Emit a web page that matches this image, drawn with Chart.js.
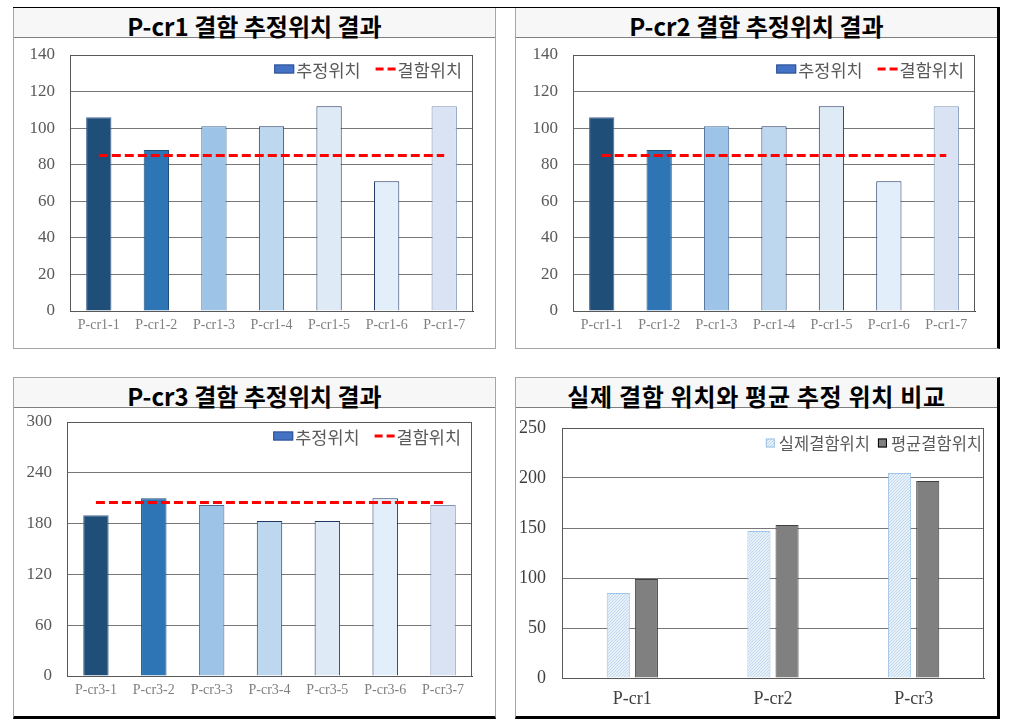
<!DOCTYPE html>
<html>
<head>
<meta charset="utf-8">
<script src="https://cdn.jsdelivr.net/npm/chart.js@4"></script>
<style>
    body { margin:0; background:#fff; width:1016px; height:725px; position:relative; overflow:hidden; }
    .panel { position:absolute; box-sizing:border-box; border:1px solid #a6a6a6; background:#fff; }
    .title { height:29px; line-height:29px; background:#f7f7f7; border-bottom:1px solid #7f7f7f;
             text-align:center; font:bold 24px "Noto Sans CJK KR", sans-serif; color:#000; white-space:nowrap; }
    .line { position:absolute; background:#000; }
    canvas { position:absolute; }
</style>
</head>
<body>

<div class="panel" style="left:13px;top:7px;width:483px;height:342px;">
    <div class="title">P-cr1 결함 추정위치 결과</div>
</div>
<div class="panel" style="left:515px;top:7px;width:485px;height:342px;border-right:3px solid #000;">
    <div class="title">P-cr2 결함 추정위치 결과</div>
</div>
<div class="panel" style="left:13px;top:377px;width:483px;height:342px;border-bottom:3px solid #000;">
    <div class="title">P-cr3 결함 추정위치 결과</div>
</div>
<div class="panel" style="left:515px;top:377px;width:485px;height:342px;border-right:3px solid #000;border-bottom:3px solid #000;">
    <div class="title" style="letter-spacing:0.7px;">실제 결함 위치와 평균 추정 위치 비교</div>
</div>
<div class="line" style="left:13px;top:7px;width:987px;height:1px;"></div>

<canvas id="chart1" width="481" height="310" style="left:14px;top:38px;"></canvas>
<canvas id="chart2" width="481" height="310" style="left:516px;top:38px;"></canvas>
<canvas id="chart3" width="481" height="308" style="left:14px;top:407px;"></canvas>
<canvas id="chart4" width="481" height="308" style="left:516px;top:407px;"></canvas>

<script>
// data
const cr1Labels = ['P-cr1-1', 'P-cr1-2', 'P-cr1-3', 'P-cr1-4', 'P-cr1-5', 'P-cr1-6', 'P-cr1-7'];
const cr1Est = [106, 88, 101, 101, 112, 71, 112];
const cr1Defect = [85, 85, 85, 85, 85, 85, 85];

// the second chart uses the same labels in the original
const cr2Labels = ['P-cr1-1', 'P-cr1-2', 'P-cr1-3', 'P-cr1-4', 'P-cr1-5', 'P-cr1-6', 'P-cr1-7'];
const cr2Est = [106, 88, 101, 101, 112, 71, 112];
const cr2Defect = [85, 85, 85, 85, 85, 85, 85];

const cr3Labels = ['P-cr3-1', 'P-cr3-2', 'P-cr3-3', 'P-cr3-4', 'P-cr3-5', 'P-cr3-6', 'P-cr3-7'];
const cr3Est = [190, 210, 202, 183, 183, 210, 202];
const cr3Defect = [205, 205, 205, 205, 205, 205, 205];

const cmpLabels = ['P-cr1', 'P-cr2', 'P-cr3'];
const cmpActual = [85, 147, 205];
const cmpMean = [99, 153, 197];

// styles
const barColors = ['#1f4e79', '#2e75b6', '#9dc3e6', '#bdd7ee', '#deebf7', '#e2effa', '#dae3f3'];
const barBorders = ['#4a6a94', '#1f4e79', '#4a6a94', '#203864', '#203864', '#203864', '#7f95b5'];
const serif = '"Liberation Serif", "Times New Roman", serif';
const sans = '"Noto Sans CJK KR", sans-serif';

Chart.defaults.font.family = sans;

// plot area frame
const framePlugin = {
    id: 'frame',
    beforeDatasetsDraw(chart) {
        const ctx = chart.ctx, a = chart.chartArea;
        ctx.save();
        ctx.strokeStyle = '#595959';
        ctx.lineWidth = 1;
        ctx.strokeRect(Math.round(a.left) + 0.5, Math.round(a.top) + 0.5,
            Math.round(a.width) - 1, Math.round(a.height));
        ctx.restore();
    }
};

// legend drawn inside the plot, top right (like the excel one)
const insideLegend = {
    id: 'insideLegend',
    afterDraw(chart, args, o) {
        const ctx = chart.ctx, a = chart.chartArea;
        ctx.save();
        ctx.font = o.fontSize + 'px ' + sans;
        var widths = o.items.map(function (it) { return o.boxW + o.gap + ctx.measureText(it.text).width; });
        var total = widths.reduce(function (s, w) { return s + w; }, 0) + o.itemGap * (o.items.length - 1);
        var x = a.right - o.right - total;
        var y = a.top + o.top;
        o.items.forEach(function (it, i) {
            if (it.type === 'line') {
                ctx.strokeStyle = it.stroke;
                ctx.lineWidth = 3;
                ctx.setLineDash(it.dash);
                ctx.beginPath();
                ctx.moveTo(x, y);
                ctx.lineTo(x + o.boxW, y);
                ctx.stroke();
                ctx.setLineDash([]);
            } else {
                ctx.fillStyle = it.fill;
                ctx.fillRect(x, y - o.boxH / 2, o.boxW, o.boxH);
                ctx.strokeStyle = it.stroke;
                ctx.lineWidth = 1;
                ctx.strokeRect(x + 0.5, y - o.boxH / 2 + 0.5, o.boxW - 1, o.boxH - 1);
            }
            ctx.fillStyle = '#595959';
            ctx.textBaseline = 'middle';
            ctx.fillText(it.text, x + o.boxW + o.gap, y + 1);
            x += widths[i] + o.itemGap;
        });
        ctx.restore();
    }
};

// fixed axis sizes so the plot box lands where the original one is
function fixY(w) {
    return function (s) { s.width = w; s.paddingTop = 0; s.paddingBottom = 0; };
}

function makeEstChart(id, labels, est, defect, yMax, yStep, lay) {
    var ctx = document.getElementById(id).getContext('2d');
    return new Chart(ctx, {
        type: 'bar',
        data: {
            labels: labels,
            datasets: [
                {
                    type: 'line',
                    label: '결함위치',
                    data: defect,
                    borderColor: '#ff0000',
                    borderWidth: 3,
                    borderDash: [9, 4],
                    pointRadius: 0,
                    fill: false,
                    order: 0
                },
                {
                    label: '추정위치',
                    data: est,
                    backgroundColor: barColors,
                    borderColor: barBorders,
                    borderWidth: 1,
                    categoryPercentage: 1,
                    barPercentage: 0.44,
                    order: 1
                }
            ]
        },
        options: {
            responsive: false,
            animation: false,
            layout: { padding: { left: 0, right: lay.right, top: lay.top, bottom: 0 } },
            plugins: {
                tooltip: { enabled: false },
                legend: { display: false },
                insideLegend: {
                    fontSize: 17.5, boxW: 20, boxH: 9, gap: 2, itemGap: 15, right: 11, top: 14,
                    items: [
                        { text: '추정위치', type: 'rect', fill: '#4472c4', stroke: '#2f528f' },
                        { text: '결함위치', type: 'line', stroke: '#ff0000', dash: [8, 4] }
                    ]
                }
            },
            scales: {
                x: {
                    grid: { display: false, drawTicks: false },
                    border: { color: '#404040' },
                    ticks: { color: '#7f7f7f', padding: 6, font: { size: 14, family: serif }, maxRotation: 0 },
                    afterFit: function (s) { s.height = lay.xh; }
                },
                y: {
                    min: 0,
                    max: yMax,
                    grid: { color: '#777777', drawTicks: false },
                    border: { color: '#595959' },
                    ticks: { stepSize: yStep, color: '#595959', padding: 15, font: { size: 17, family: serif } },
                    afterFit: fixY(lay.yw)
                }
            }
        },
        plugins: [framePlugin, insideLegend]
    });
}

makeEstChart('chart1', cr1Labels, cr1Est, cr1Defect, 140, 20, { yw: 56, right: 22, top: 17, xh: 37 });
makeEstChart('chart2', cr2Labels, cr2Est, cr2Defect, 140, 20, { yw: 57, right: 22, top: 17, xh: 37 });
makeEstChart('chart3', cr3Labels, cr3Est, cr3Defect, 300, 60, { yw: 53, right: 23, top: 15, xh: 39 });

// hatched fill for the actual position bars
function hatch() {
    var c = document.createElement('canvas');
    c.width = 3; c.height = 3;
    var g = c.getContext('2d');
    g.fillStyle = '#e6f0f9';
    g.fillRect(0, 0, 3, 3);
    g.fillStyle = '#c3d8ec';
    g.fillRect(2, 0, 1, 1);
    g.fillRect(1, 1, 1, 1);
    g.fillRect(0, 2, 1, 1);
    return g.createPattern(c, 'repeat');
}

var ctx4 = document.getElementById('chart4').getContext('2d');
var hatchFill = hatch();
new Chart(ctx4, {
    type: 'bar',
    data: {
        labels: cmpLabels,
        datasets: [
            {
                label: '실제결함위치',
                data: cmpActual,
                backgroundColor: hatchFill,
                borderColor: '#9dc3e6',
                borderWidth: 1,
                categoryPercentage: 0.4,
                barPercentage: 0.82
            },
            {
                label: '평균결함위치',
                data: cmpMean,
                backgroundColor: '#808080',
                borderColor: '#404040',
                borderWidth: 1,
                categoryPercentage: 0.4,
                barPercentage: 0.82
            }
        ]
    },
    options: {
        responsive: false,
        animation: false,
        layout: { padding: { left: 0, right: 13, top: 21, bottom: 0 } },
        plugins: {
            tooltip: { enabled: false },
            legend: { display: false },
            insideLegend: {
                fontSize: 16.5, boxW: 9, boxH: 9, gap: 4, itemGap: 8, right: 2, top: 15,
                items: [
                    { text: '실제결함위치', type: 'rect', fill: hatchFill, stroke: '#9dc3e6' },
                    { text: '평균결함위치', type: 'rect', fill: '#808080', stroke: '#000000' }
                ]
            }
        },
        scales: {
            x: {
                grid: { display: false, drawTicks: false },
                border: { color: '#404040' },
                ticks: { color: '#404040', padding: 10, font: { size: 18, family: serif } },
                afterFit: function (s) { s.height = 37; }
            },
            y: {
                min: 0,
                max: 250,
                grid: { color: '#777777', drawTicks: false },
                border: { color: '#000000' },
                ticks: { stepSize: 50, color: '#404040', padding: 16, font: { size: 18, family: serif } },
                afterFit: fixY(46)
            }
        }
    },
    plugins: [framePlugin, insideLegend]
});
</script>
</body>
</html>
